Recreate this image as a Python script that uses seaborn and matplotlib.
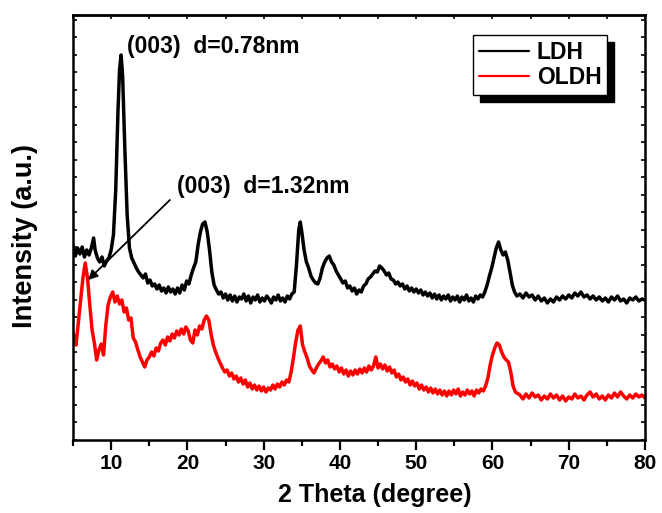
import matplotlib
matplotlib.use("Agg")
import matplotlib.pyplot as plt
from matplotlib.ticker import MultipleLocator
import seaborn as sns

# XRD patterns (2 theta in degree, intensity in a.u.)
ldh_theta = [
    5.0, 5.3, 5.6, 5.9, 6.2, 6.5, 6.8, 7.1, 7.4, 7.7,
    7.9, 8.2, 8.5, 8.8, 9.1, 9.4, 9.7, 10.0,
    10.3, 10.6, 10.9, 11.1, 11.3, 11.5, 11.8, 12.1,
    12.4, 12.7, 13.0, 13.3, 13.6, 13.9, 14.2, 14.5, 14.8, 15.1,
    15.4, 15.7, 16.0, 16.3, 16.6, 16.9, 17.2, 17.5, 17.8, 18.1,
    18.4, 18.7, 19.0, 19.3, 19.6, 19.9, 20.2, 20.5, 20.8, 21.1,
    21.4, 21.7, 22.0, 22.3, 22.6, 22.9, 23.2, 23.5, 23.8, 24.1,
    24.4, 24.7, 25.0,
    25.3, 25.6, 25.9, 26.2, 26.5, 26.8, 27.1, 27.4, 27.7, 28.0,
    28.3, 28.6, 28.9, 29.2, 29.5, 29.8, 30.1, 30.4, 30.7, 31.0,
    31.3, 31.6, 31.9, 32.2, 32.5, 32.8, 33.1, 33.4, 33.7,
    34.0, 34.3, 34.6, 34.8,
    35.0, 35.3, 35.6, 35.9, 36.2, 36.5, 36.8, 37.1, 37.4, 37.7,
    38.0, 38.3, 38.6, 38.9, 39.2, 39.5, 39.8, 40.1, 40.4, 40.7,
    41.0, 41.3, 41.6, 41.9, 42.2, 42.5, 42.8, 43.1, 43.4, 43.7,
    44.0, 44.3, 44.6, 44.9, 45.2, 45.5, 45.8, 46.1, 46.4, 46.7,
    47.0, 47.3, 47.6, 47.9, 48.2, 48.5, 48.8, 49.1, 49.4, 49.7,
    50.0, 50.3, 50.6, 50.9, 51.2, 51.5, 51.8, 52.1, 52.4, 52.7,
    53.0, 53.3, 53.6, 53.9, 54.2, 54.5, 54.8, 55.1, 55.4, 55.7,
    56.0, 56.3, 56.6, 56.9, 57.2, 57.5, 57.8, 58.1, 58.4, 58.7,
    59.0, 59.3, 59.6, 59.9, 60.2, 60.5, 60.8, 61.1, 61.4, 61.7,
    62.0, 62.3, 62.6, 62.9, 63.2,
    63.6, 64.0, 64.4, 64.8, 65.2, 65.6, 66.0, 66.4, 66.8, 67.2,
    67.6, 68.0, 68.4, 68.8, 69.2, 69.6, 70.0, 70.4, 70.8, 71.2,
    71.6, 72.0, 72.4, 72.8, 73.2, 73.6, 74.0, 74.4, 74.8, 75.2,
    75.6, 76.0, 76.4, 76.8, 77.2, 77.6, 78.0, 78.4, 78.8, 79.2,
    79.6, 80.0,
]
ldh_counts = [
    780, 736, 768, 744, 772, 732, 760, 740, 768, 808,
    760, 728, 712, 732, 696, 716, 728, 760,
    820, 1000, 1320, 1480, 1540, 1460, 1160, 900,
    768, 728, 708, 688, 672, 660, 648, 664, 628, 640,
    616, 624, 604, 620, 596, 608, 588, 612, 592, 604,
    584, 608, 588, 620, 600, 636, 624, 660, 688, 712,
    780, 832, 864, 872, 832, 760, 672, 620, 600, 584,
    592, 568, 584,
    560, 580, 556, 576, 552, 572, 564, 584, 556, 576,
    548, 572, 560, 580, 552, 568, 556, 576, 564, 548,
    572, 560, 580, 556, 568, 552, 576, 564, 584,
    592, 700, 840, 872,
    832, 760, 712, 688, 656, 640, 628, 624, 648, 688,
    712, 728, 736, 712, 700, 676, 660, 644, 628, 636,
    608, 616, 596, 608, 584, 600, 592, 616, 624, 644,
    652, 664, 676, 672, 696, 688, 676, 660, 668, 644,
    640, 624, 632, 616, 624, 604, 616, 596, 608, 592,
    604, 588, 600, 580, 592, 576, 588, 568, 584, 564,
    580, 560, 576, 564, 580, 556, 572, 560, 576, 552,
    572, 560, 580, 556, 568, 552, 576, 564, 580, 572,
    592, 620, 656, 688, 728, 768, 792, 760, 740, 752,
    720, 672, 620, 592, 576,
    584, 568, 588, 572, 580, 560, 576, 556, 568, 548,
    564, 552, 572, 560, 576, 564, 580, 568, 588, 576,
    592, 572, 580, 564, 576, 560, 572, 556, 568, 552,
    572, 560, 576, 556, 564, 548, 568, 560, 572, 556,
    564, 560,
]

oldh_theta = [
    5.0, 5.2, 5.4, 5.7,
    6.0, 6.3, 6.6, 6.9, 7.2, 7.5, 7.8, 8.1, 8.4, 8.7,
    9.0, 9.3, 9.6, 9.9, 10.2, 10.5, 10.8, 11.1, 11.4, 11.7,
    12.0, 12.3, 12.6, 12.9, 13.2, 13.5, 13.8, 14.1, 14.4, 14.7,
    15.0, 15.3, 15.6, 15.9, 16.2, 16.5, 16.8, 17.1, 17.4, 17.7,
    18.0, 18.3, 18.6, 18.9, 19.2, 19.5, 19.8, 20.1, 20.4, 20.7,
    21.0, 21.3, 21.6, 21.9, 22.2, 22.5, 22.8, 23.1, 23.4, 23.7,
    24.0, 24.3, 24.6, 24.9, 25.2, 25.5, 25.8, 26.1, 26.4, 26.7,
    27.0, 27.3, 27.6, 27.9, 28.2, 28.5, 28.8, 29.1, 29.4, 29.7,
    30.0, 30.3, 30.6, 30.9, 31.2, 31.5, 31.8, 32.1, 32.4, 32.7,
    33.0, 33.3, 33.6, 33.9, 34.2, 34.5, 34.8, 35.1, 35.4, 35.7,
    36.0, 36.3, 36.6, 36.9, 37.2, 37.5, 37.8, 38.1, 38.4, 38.7,
    39.0, 39.3, 39.6, 39.9, 40.2, 40.5, 40.8, 41.1, 41.4, 41.7,
    42.0, 42.3, 42.6, 42.9, 43.2, 43.5, 43.8, 44.1, 44.4, 44.7,
    45.0, 45.3, 45.6, 45.9, 46.2, 46.5, 46.8, 47.1, 47.4, 47.7,
    48.0, 48.3, 48.6, 48.9, 49.2, 49.5, 49.8, 50.1, 50.4, 50.7,
    51.0, 51.3, 51.6, 51.9, 52.2, 52.5, 52.8, 53.1, 53.4, 53.7,
    54.0, 54.3, 54.6, 54.9, 55.2, 55.5, 55.8, 56.1, 56.4, 56.7,
    57.0, 57.3, 57.6, 57.9, 58.2, 58.5, 58.8, 59.1, 59.4, 59.7,
    60.0, 60.3, 60.6, 60.9, 61.2, 61.5, 61.8, 62.1, 62.4, 62.7,
    63.0,
    63.6, 64.0, 64.4, 64.8, 65.2, 65.6, 66.0, 66.4, 66.8, 67.2,
    67.6, 68.0, 68.4, 68.8, 69.2, 69.6, 70.0, 70.4, 70.8, 71.2,
    71.6, 72.0, 72.4, 72.8, 73.2, 73.6, 74.0, 74.4, 74.8, 75.2,
    75.6, 76.0, 76.4, 76.8, 77.2, 77.6, 78.0, 78.4, 78.8, 79.2,
    79.6, 80.0,
]
oldh_counts = [
    428, 392, 380, 472,
    560, 648, 708, 648, 540, 440, 388, 320, 360, 384,
    340, 460, 540, 572, 592, 552, 576, 544, 560, 512,
    528, 480, 488, 408, 392, 360, 332, 312, 292, 320,
    332, 352, 336, 368, 356, 388, 400, 380, 412, 396,
    424, 408, 436, 420, 444, 424, 452, 436, 400, 388,
    440, 420, 456, 444, 480, 496, 480, 424, 380, 352,
    328, 308, 288, 272, 280, 256, 268, 244, 256, 232,
    248, 224, 240, 212, 228, 204, 220, 200, 216, 196,
    212, 192, 208, 200, 220, 204, 224, 212, 232, 220,
    240, 232, 272, 328, 392, 440, 456, 380, 352, 328,
    296, 280, 268, 288, 304, 316, 332, 308, 320, 292,
    304, 284, 296, 272, 288, 264, 280, 256, 276, 260,
    280, 264, 284, 268, 288, 272, 296, 280, 296, 332,
    288, 304, 284, 300, 276, 292, 268, 280, 252, 264,
    240, 252, 232, 244, 220, 236, 216, 228, 204, 220,
    200, 212, 192, 208, 188, 204, 184, 200, 180, 196,
    176, 196, 180, 200, 184, 204, 176, 192, 180, 200,
    184, 196, 176, 200, 188, 204, 196, 216, 248, 300,
    340, 368, 388, 380, 352, 332, 320, 312, 272, 216,
    192,
    180, 164, 184, 168, 188, 172, 180, 160, 176, 164,
    184, 168, 180, 160, 176, 156, 172, 164, 184, 168,
    176, 160, 180, 192, 172, 184, 164, 176, 160, 180,
    168, 188, 172, 192, 176, 164, 180, 168, 184, 172,
    180, 168,
]

series_labels = ["LDH", "OLDH"]
peak_labels = ["(003)  d=0.78nm", "(003)  d=1.32nm"]

sns.set_style("ticks")
plt.rcParams["font.family"] = ["Liberation Sans", "DejaVu Sans"]
plt.rcParams["font.weight"] = "bold"
plt.rcParams["text.color"] = "black"
plt.rcParams["axes.labelcolor"] = "black"
plt.rcParams["xtick.color"] = "black"
plt.rcParams["ytick.color"] = "black"

fig = plt.figure(figsize=(6.62, 5.13), dpi=100)
ax = fig.add_axes([0.1103, 0.1423, 0.864, 0.8285])

sns.lineplot(x=ldh_theta, y=ldh_counts, color="black", lw=2.5,
             label=series_labels[0], estimator=None, ax=ax)
sns.lineplot(x=oldh_theta, y=oldh_counts, color="red", lw=2.5,
             label=series_labels[1], estimator=None, ax=ax)

ax.set_xlim(5, 80)
ax.set_ylim(0, 1700)
ax.xaxis.set_major_locator(MultipleLocator(10))
ax.xaxis.set_minor_locator(MultipleLocator(5))
ax.yaxis.set_major_locator(MultipleLocator(70))

for side in ["left", "right", "top", "bottom"]:
    ax.spines[side].set_visible(True)
    ax.spines[side].set_linewidth(1.8)
    ax.spines[side].set_color("black")

ax.tick_params(axis="x", which="major", direction="out", length=7, width=1.6,
               pad=3, labelsize=15)
ax.tick_params(axis="x", which="minor", direction="out", length=4, width=1.6)
ax.tick_params(axis="y", which="both", direction="in", length=3, width=1.2,
               left=True, right=True, labelleft=False)

top = ax.secondary_xaxis("top")
top.xaxis.set_major_locator(MultipleLocator(5))
top.tick_params(direction="in", length=3, width=1.2, labeltop=False)
top.spines["top"].set_linewidth(1.8)

ax.set_xlabel("2 Theta (degree)", fontsize=18, fontweight="bold")
ax.set_ylabel("Intensity (a.u.)", fontsize=19.5, fontweight="bold")
ax.xaxis.set_label_coords(0.527, -0.1)
ax.yaxis.set_label_coords(-0.061, 0.48)

ax.text(12.1, 1572, peak_labels[0], fontsize=16.5, fontweight="bold",
        ha="left", va="center")
ax.text(18.65, 1012, peak_labels[1], fontsize=16.5, fontweight="bold",
        ha="left", va="center")
ax.annotate("", xy=(6.97, 640), xytext=(17.7, 960),
            arrowprops=dict(arrowstyle="-|>", color="black", lw=1.3,
                            mutation_scale=14, shrinkA=0, shrinkB=0))

leg = ax.legend(loc="upper left", bbox_to_anchor=(0.699, 0.953),
                bbox_transform=ax.transAxes, borderaxespad=0,
                frameon=True, fancybox=False, edgecolor="black",
                framealpha=1, fontsize=16.5, handlelength=2.2,
                handletextpad=0.35, labelspacing=0.1, borderpad=0.25,
                shadow={"ox": 5, "oy": -5, "facecolor": "black",
                        "edgecolor": "black", "alpha": 1})
leg.get_frame().set_linewidth(1.0)
for line in leg.get_lines():
    line.set_linewidth(1.6)

fig.savefig("out.png", dpi=100)
plt.close(fig)
